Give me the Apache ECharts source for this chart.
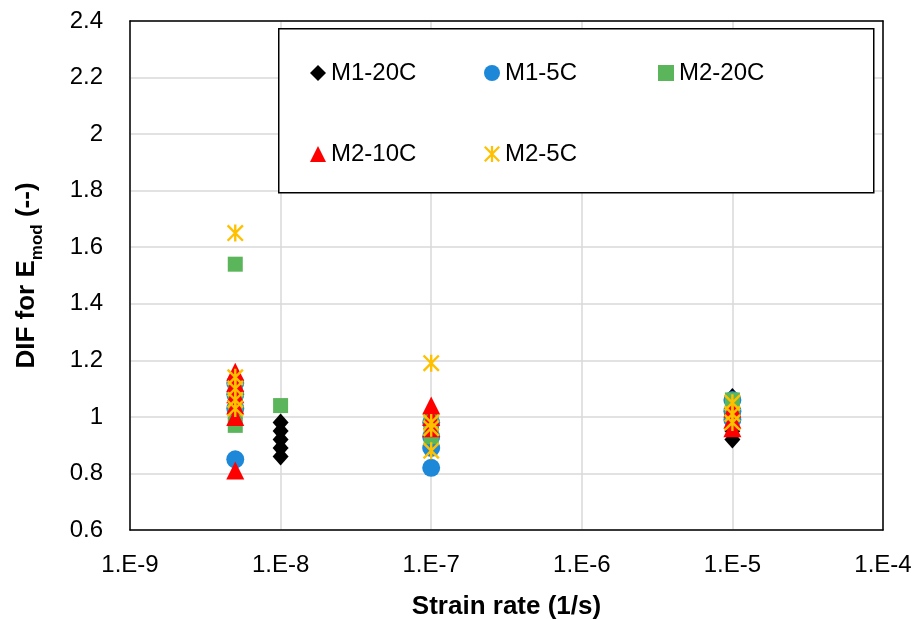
<!DOCTYPE html>
<html>
<head>
<meta charset="utf-8">
<script src="https://cdn.jsdelivr.net/npm/echarts@6/dist/echarts.min.js"></script>
<style>html,body{margin:0;padding:0;background:#fff;}#c{width:922px;height:619px;}</style>
</head>
<body>
<div id="c"></div>
<script>
// ---- data ----
const seriesNames = ['M1-20C', 'M1-5C', 'M2-20C', 'M2-10C', 'M2-5C'];
const xTickExponents = [-9, -8, -7, -6, -5, -4];
const yTicks = [0.6, 0.8, 1, 1.2, 1.4, 1.6, 1.8, 2, 2.2, 2.4];

const m1_20C = [[1e-8,0.98],[1e-8,0.95],[1e-8,0.92],[1e-8,0.89],[1e-8,0.86],
                [1e-7,0.96],[1e-7,0.93],
                [1e-5,1.07],[1e-5,1.03],[1e-5,0.98],[1e-5,0.95],[1e-5,0.92]];
const m1_5C  = [[5e-9,1.12],[5e-9,1.08],[5e-9,1.03],[5e-9,0.85],
                [1e-7,0.98],[1e-7,0.93],[1e-7,0.89],[1e-7,0.82],
                [1e-5,1.06],[1e-5,1.02],[1e-5,0.99]];
const m2_20C = [[5e-9,1.54],[5e-9,1.08],[5e-9,1.02],[5e-9,0.97],
                [1e-8,1.04],
                [1e-7,0.99],[1e-7,0.93],
                [1e-5,1.06],[1e-5,1.02]];
const m2_10C = [[5e-9,1.16],[5e-9,1.12],[5e-9,1.08],[5e-9,1.04],[5e-9,1.00],[5e-9,0.81],
                [1e-7,1.04],[1e-7,1.00],[1e-7,0.96],
                [1e-5,1.03],[1e-5,0.99],[1e-5,0.96]];
const m2_5C  = [[5e-9,1.65],[5e-9,1.14],[5e-9,1.10],[5e-9,1.06],[5e-9,1.03],
                [1e-7,1.19],[1e-7,0.98],[1e-7,0.96],[1e-7,0.88],
                [1e-5,1.05],[1e-5,1.01],[1e-5,0.98]];

// ---- styles ----
const FONT = 'Liberation Sans';
const STAR = 'path://M43,0L57,0L57,100L43,100Z M0,10L10,0L100,90L90,100Z M90,0L100,10L10,100L0,90Z';
const styles = [
  {data: m1_20C, symbol: 'diamond', size: [16,18], color: '#000000'},
  {data: m1_5C,  symbol: 'circle',  size: 18, color: '#1E88D8'},
  {data: m2_20C, symbol: 'rect',    size: 15, color: '#5BB55A'},
  {data: m2_10C, symbol: 'triangle',size: 18, color: '#FF0000'},
  {data: m2_5C,  symbol: STAR,      size: 17, color: '#FFC000'}
];

const series = seriesNames.map((n, i) => ({
  name: n, type: 'scatter', data: styles[i].data,
  symbol: styles[i].symbol, symbolSize: styles[i].size,
  itemStyle: {color: styles[i].color, opacity: 1},
  emphasis: {disabled: true}, z: 3
}));

const legendPos = [[310, 61], [484, 61], [658, 61], [310, 142], [484, 142]];
const legends = seriesNames.map((n, i) => ({
  data: [n], left: legendPos[i][0], top: legendPos[i][1], padding: 0,
  itemWidth: 16, itemHeight: 16, itemGap: 0, z: 20,
  textStyle: {fontFamily: FONT, fontSize: 24, color: '#000'},
  selectedMode: false
}));

const axisName = {fontFamily: FONT, fontSize: 26, fontWeight: 'bold', color: '#000'};
const chart = echarts.init(document.getElementById('c'), null, {renderer: 'canvas'});
chart.setOption({
  animation: false,
  backgroundColor: '#fff',
  grid: {left: 130, right: 39, top: 21, bottom: 89, containLabel: false, outerBoundsMode: 'none'},
  legend: legends,
  graphic: [{
    type: 'rect', left: 278, top: 28, z: 10,
    shape: {width: 595, height: 164},
    style: {fill: '#fff', stroke: '#000', lineWidth: 1.5}
  }],
  xAxis: [{
    type: 'log', logBase: 10, min: 1e-9, max: 1e-4,
    name: 'Strain rate (1/s)', nameLocation: 'middle', nameGap: 64,
    nameTextStyle: axisName,
    axisLine: {show: true, lineStyle: {color: '#000', width: 1.5}},
    axisTick: {show: false},
    minorTick: {show: false},
    splitLine: {show: true, lineStyle: {color: '#d9d9d9', width: 1.5}},
    axisLabel: {
      fontFamily: FONT, fontSize: 24, color: '#000', margin: 23,
      formatter: v => '1.E' + Math.round(Math.log10(v))
    }
  }, {
    type: 'log', logBase: 10, min: 1e-9, max: 1e-4, position: 'top',
    axisLine: {show: true, lineStyle: {color: '#000', width: 1.5}},
    axisTick: {show: false}, axisLabel: {show: false}, splitLine: {show: false}
  }],
  yAxis: [{
    type: 'value', min: yTicks[0], max: yTicks[yTicks.length - 1], interval: 0.2,
    name: '{a|DIF for E}{b|mod}{a| (--)}', nameLocation: 'middle', nameGap: 90, nameRotate: 90,
    nameTextStyle: {
      rich: {
        a: Object.assign({}, axisName, {lineHeight: 30, verticalAlign: 'bottom'}),
        b: Object.assign({}, axisName, {fontSize: 17, lineHeight: 30, verticalAlign: 'bottom', padding: [0,0,-6,0]})
      }
    },
    axisLine: {show: true, lineStyle: {color: '#000', width: 1.5}},
    axisTick: {show: false},
    splitLine: {show: true, lineStyle: {color: '#d9d9d9', width: 1.5}},
    axisLabel: {fontFamily: FONT, fontSize: 24, color: '#000', margin: 27,
      formatter: v => String(Math.round(v * 10) / 10)}
  }, {
    type: 'value', min: yTicks[0], max: yTicks[yTicks.length - 1], interval: 0.2, position: 'right',
    axisLine: {show: true, lineStyle: {color: '#000', width: 1.5}},
    axisTick: {show: false}, axisLabel: {show: false}, splitLine: {show: false}
  }],
  series: series
});
</script>
</body>
</html>
